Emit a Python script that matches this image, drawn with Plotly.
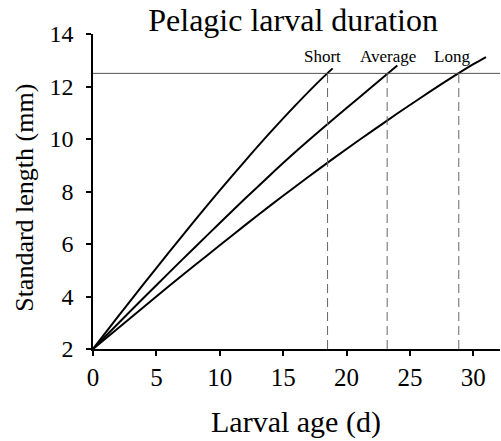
import plotly.graph_objects as go

# growth curves
short_age = [0, 2, 4, 6, 8, 10, 12, 14, 16, 18, 18.9]
short_len = [2, 3.25, 4.48, 5.69, 6.88, 8.04, 9.17, 10.26, 11.3, 12.28, 12.69]

avg_age = [0, 2, 4, 6, 8, 10, 12, 14, 16, 18, 20, 22, 24]
avg_len = [2, 2.98, 3.95, 4.91, 5.86, 6.8, 7.73, 8.64, 9.52, 10.36, 11.18, 11.99, 12.8]

long_age = [0, 2, 4, 6, 8, 10, 12, 14, 16, 18, 20, 22, 24, 26, 28, 30, 31]
long_len = [2, 2.8, 3.6, 4.4, 5.18, 5.95, 6.72, 7.47, 8.2, 8.92, 9.62, 10.3, 10.97, 11.62, 12.25, 12.85, 13.12]

settle_len = 12.5
pld_names = ["Short", "Average", "Long"]
pld_days = [18.5, 23.2, 28.85]
label_x = [18.1, 23.3, 28.3]

font = "Liberation Serif, Times New Roman, serif"

fig = go.Figure()

for ax, ly in [(short_age, short_len), (avg_age, avg_len), (long_age, long_len)]:
    fig.add_trace(go.Scatter(x=ax, y=ly, mode="lines",
                             line=dict(color="#000", width=2, shape="spline", smoothing=0.8),
                             hoverinfo="skip"))

# settlement size line
fig.add_trace(go.Scatter(x=[0, 32.1], y=[settle_len, settle_len], mode="lines",
                         line=dict(color="#555", width=1), hoverinfo="skip"))

# dashed drop lines at each duration
for d in pld_days:
    fig.add_trace(go.Scatter(x=[d, d], y=[2, settle_len], mode="lines",
                             line=dict(color="#666", width=1, dash="9px,5px"),
                             hoverinfo="skip"))

for name, x in zip(pld_names, label_x):
    fig.add_annotation(x=x, y=13.15, text=name, showarrow=False,
                       font=dict(family=font, size=17, color="#000"))

# axis titles placed as annotations
fig.add_annotation(x=0.499, y=-0.231, xref="paper", yref="paper", text="Larval age (d)",
                   xanchor="center", yanchor="middle",
                   showarrow=False, font=dict(family=font, size=30, color="#000"))
fig.add_annotation(x=-0.167, y=0.48, xref="paper", yref="paper", text="Standard length (mm)",
                   xanchor="center", yanchor="middle",
                   textangle=-90, showarrow=False, font=dict(family=font, size=26, color="#000"))

fig.update_layout(
    width=501, height=441,
    margin=dict(l=93, r=1, t=34, b=92),
    paper_bgcolor="white", plot_bgcolor="white",
    showlegend=False,
    font=dict(family=font, color="#000", size=24),
    title=dict(text="Pelagic larval duration", x=0.585, xanchor="center",
               y=0.955, yanchor="middle", font=dict(family=font, size=32, color="#000")),
)
fig.update_xaxes(
    range=[0, 32.1], tickvals=[0, 5, 10, 15, 20, 25, 30], automargin=False,
    showgrid=False, zeroline=False, showline=True, linecolor="#000", linewidth=1.5,
    ticks="outside", ticklen=5, tickcolor="#000", tickwidth=1.5,
    tickfont=dict(family=font, size=25, color="#000"),
)
fig.update_yaxes(
    range=[2, 14], tickvals=[2, 4, 6, 8, 10, 12, 14], automargin=False,
    showgrid=False, zeroline=False, showline=True, linecolor="#000", linewidth=1.5,
    ticks="outside", ticklen=5, tickcolor="#000", tickwidth=1.5, ticklabelstandoff=8,
    tickfont=dict(family=font, size=24, color="#000"),
)

# drop the default page margin so the figure sits at the window's corner
fig.write_html("out.html", config={"displayModeBar": False},
               post_script="document.body.style.margin='0';")
